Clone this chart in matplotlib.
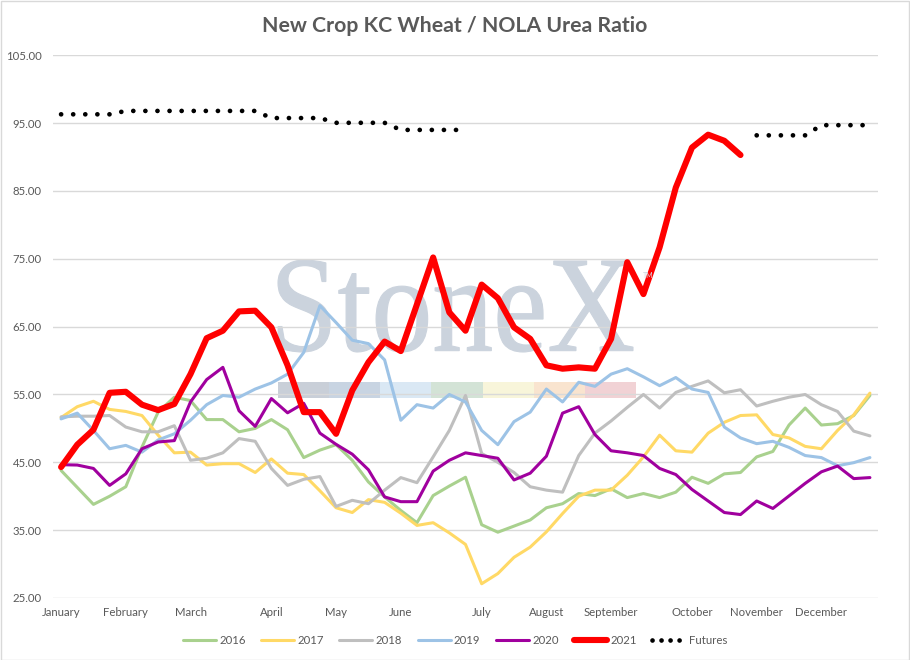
import numpy as np
import matplotlib
matplotlib.use("Agg")
from matplotlib import pyplot as plt
from matplotlib.textpath import TextPath
from matplotlib.font_manager import FontProperties
from matplotlib.patches import PathPatch, Rectangle
import matplotlib.transforms as mtransforms

nan = np.nan

months = ["January", "February", "March", "April", "May", "June", "July",
          "August", "September", "October", "November", "December"]
weeks_in_month = [4, 4, 5, 4, 4, 5, 4, 4, 5, 4, 4, 3]

y2016 = [43.8, 41.3, 38.8, 40.0, 41.4, 47.25, 52.4, 54.6, 54.1, 51.3, 51.3, 49.5, 50.0,
         51.3, 49.8, 45.7, 46.8, 47.6, 45.3, 42.1, 39.9, 37.9, 36.1, 40.1, 41.5, 42.8,
         35.8, 34.7, 35.6, 36.5, 38.3, 38.9, 40.4, 40.1, 41.1, 39.8, 40.4, 39.8, 40.6,
         42.8, 41.9, 43.3, 43.5, 45.8, 46.6, 50.5, 53.0, 50.5, 50.7, 51.9, 54.85]
y2017 = [51.6, 53.2, 54.0, 52.8, 52.5, 51.9, 49.0, 46.4, 46.5, 44.6, 44.8, 44.8, 43.5,
         45.5, 43.4, 43.2, 40.8, 38.3, 37.6, 39.5, 39.1, 37.5, 35.7, 36.1, 34.6, 32.9,
         27.1, 28.6, 31.0, 32.5, 34.75, 37.45, 40.0, 40.9, 40.9, 43.1, 45.8, 49.0, 46.7,
         46.5, 49.3, 50.9, 51.9, 52.0, 49.1, 48.6, 47.35, 47.0, 49.7, 52.0, 55.2]
y2018 = [51.7, 51.8, 51.8, 51.9, 50.2, 49.5, 49.5, 50.4, 45.3, 45.6, 46.4, 48.5, 48.1,
         44.1, 41.6, 42.5, 42.9, 38.5, 39.4, 38.9, 40.9, 42.75, 42.0, 45.8, 49.7, 54.85,
         46.3, 45.0, 43.5, 41.4, 40.9, 40.6, 46.0, 49.3, 51.1, 53.1, 55.0, 53.0, 55.3,
         56.2, 57.0, 55.25, 55.7, 53.3, 54.0, 54.6, 55.0, 53.5, 52.5, 49.6, 48.9]
y2019 = [51.4, 52.25, 49.7, 47.0, 47.5, 46.5, 48.3, 49.2, 51.2, 53.5, 54.85, 54.6, 55.8,
         56.7, 58.0, 61.2, 68.1, 65.6, 63.0, 62.5, 60.1, 51.2, 53.5, 53.0, 55.0, 53.9,
         49.7, 47.6, 51.0, 52.4, 55.8, 53.9, 56.8, 56.2, 58.0, 58.8, 57.6, 56.3, 57.5,
         55.8, 55.3, 50.2, 48.6, 47.75, 48.1, 47.2, 46.0, 45.7, 44.5, 44.95, 45.7]
y2020 = [44.65, 44.6, 44.1, 41.6, 43.3, 47.0, 48.0, 48.2, 53.9, 57.2, 59.0, 52.6, 50.3,
         54.4, 52.3, 53.7, 49.3, 47.65, 46.2, 43.9, 39.9, 39.2, 39.2, 43.7, 45.3, 46.4,
         46.0, 45.6, 42.4, 43.4, 45.9, 52.25, 53.2, 49.1, 46.7, 46.4, 46.0, 44.1, 43.2,
         41.0, 39.3, 37.6, 37.3, 39.3, 38.2, 40.05, 41.9, 43.6, 44.45, 42.6, 42.75]
y2021 = [44.3, 47.6, 49.8, 55.25, 55.4, 53.5, 52.7, 53.6, 58.0, 63.3, 64.4, 67.25, 67.35,
         64.9, 59.3, 52.4, 52.4, 49.2, 55.6, 59.75, 62.8, 61.4, 68.3, 75.2, 67.1, 64.4,
         71.2, 69.2, 64.9, 63.2, 59.3, 58.8, 59.0, 58.8, 63.2, 74.5, 69.8, 76.7, 85.5,
         91.4, 93.3, 92.4, 90.3, nan, nan, nan, nan, nan, nan, nan, nan]
futures = [96.3, 96.3, 96.3, 96.3, 96.8, 96.8, 96.8, 96.8, 96.8, 96.8, 96.8, 96.8, 96.8,
           95.75, 95.75, 95.75, 95.75, 95.05, 95.05, 95.05, 95.05, 94.0, 94.0, 94.0, 94.0,
           94.0, nan, nan, nan, nan, nan, nan, nan, nan, nan, nan, nan, nan, nan, nan,
           nan, nan, nan, 93.2, 93.2, 93.2, 93.2, 94.7, 94.7, 94.7, 94.7]

W, H = 910, 660
TXT = "#595959"
plt.rcParams["font.family"] = ["Lato", "DejaVu Sans"]

fig = plt.figure(figsize=(W / 100, H / 100), dpi=100)
ax = fig.add_axes([53 / W, 1 - 598 / H, 825 / W, (598 - 55.3) / H])

x = np.arange(len(y2016))
series = [
    ("2016", y2016, "#A9D18E", 2.2),
    ("2017", y2017, "#FFD966", 2.2),
    ("2018", y2018, "#BFBFBF", 2.2),
    ("2019", y2019, "#9DC3E6", 2.2),
    ("2020", y2020, "#A0009E", 2.2),
    ("2021", y2021, "#FF0000", 4.4),
]
for name, vals, col, lw in series:
    ax.plot(x, vals, color=col, lw=lw, label=name, solid_joinstyle="round",
            solid_capstyle="round", zorder=3)
ax.plot(x, futures, color="black", lw=3.4, linestyle=(0, (0.01, 2.55)),
        dash_capstyle="round", label="Futures", zorder=3)

# category axis with month names at the first week of each month
tick_pos, pos = [], 0
for n in weeks_in_month:
    tick_pos.append(pos)
    pos += n
ax.set_xlim(-0.5, len(x) - 0.5)
ax.set_xticks(tick_pos)
ax.set_xticklabels(months)
ax.set_ylim(25, 105)
ax.set_yticks(np.arange(25, 106, 10))
ax.set_yticklabels([f"{v:.2f}" for v in np.arange(25, 106, 10)])
ax.tick_params(axis="both", length=0, labelsize=8.2, labelcolor=TXT)
ax.tick_params(axis="x", pad=6.5)
ax.tick_params(axis="y", pad=8)
ax.grid(axis="y", color="#D9D9D9", lw=1)
ax.set_axisbelow(True)
for s in ax.spines.values():
    s.set_visible(False)

# StoneX watermark
tp = TextPath((0, 0), "StoneX", size=100, prop=FontProperties(family="Liberation Serif"))
ext = tp.get_extents()
x0, x1, ytop, ybase = 278, 633, 260, 352
tr = (mtransforms.Affine2D().translate(-ext.x0, -ext.y0)
      .scale((x1 - x0) / ext.width / W, (ybase - ytop) / ext.height / H)
      .translate(x0 / W, 1 - ybase / H) + fig.transFigure)
ax.add_patch(PathPatch(tp, transform=tr, fc="#CBD3DD", ec="#CBD3DD", lw=0.8, zorder=0.1))
fig.text(643 / W, 1 - 278 / H, "TM", fontsize=5, color="#CDD5DE", zorder=0.1)
band = ["#C9CFD8", "#C8D4E2", "#DAE8F4", "#D3E3D6", "#F8F5DA", "#F9E4CF", "#F1D2D5"]
bw = (636 - 278) / len(band)
for k, c in enumerate(band):
    ax.add_patch(Rectangle(((278 + k * bw) / W, 1 - 398 / H), bw / W, 16 / H,
                           transform=fig.transFigure, fc=c, ec="none", zorder=0.1))

fig.suptitle("New Crop KC Wheat / NOLA Urea Ratio", x=455 / W, y=1 - 26 / H,
             va="center", fontsize=15.3, fontweight="bold", color=TXT)

leg = fig.legend(loc="center", bbox_to_anchor=(455 / W, 1 - 640 / H), ncol=7,
                 frameon=False, fontsize=8.2, labelcolor=TXT, handlelength=2.9,
                 handletextpad=0.3, columnspacing=1.35)
leg.get_lines()[-1].set_linestyle((0, (0.01, 1.9)))

fig.patches.append(Rectangle((0.5 / W, 0.5 / H), 1 - 1.5 / W, 1 - 1.5 / H,
                             transform=fig.transFigure, fill=False, ec="#D9D9D9", lw=1))

fig.savefig("out.png", dpi=100)
